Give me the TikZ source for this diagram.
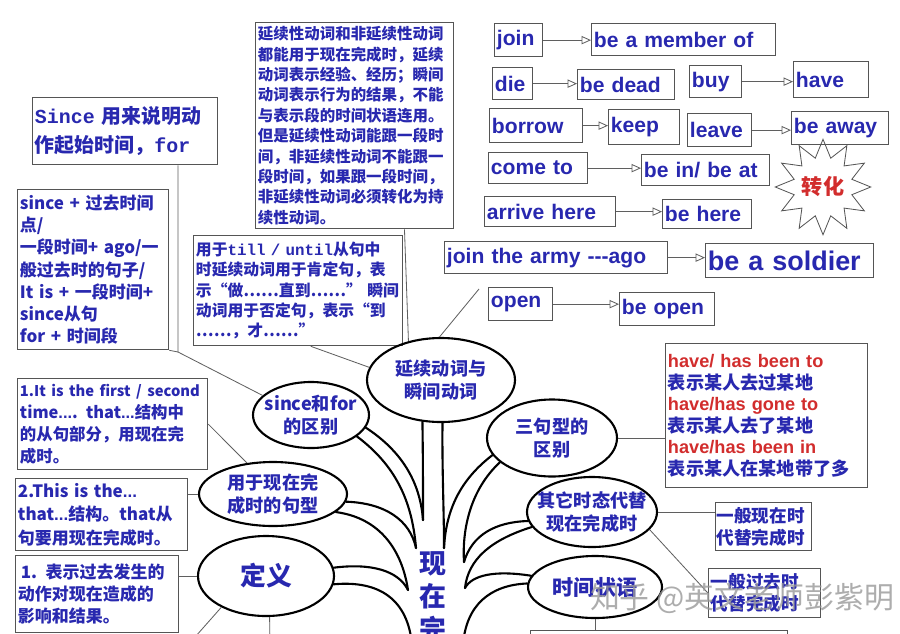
\documentclass[tikz,border=0pt]{standalone}
\usepackage{fontspec}
\setmainfont{Liberation Sans}
\newfontfamily\cjk{Noto Sans CJK SC}
\newfontfamily\mono{Liberation Mono}
\usetikzlibrary{positioning,arrows.meta,shapes.geometric,calc}

\definecolor{inkblue}{RGB}{40,40,175}
\definecolor{inkred}{RGB}{210,45,45}
\definecolor{edgegray}{RGB}{85,85,85}
\definecolor{linkgray}{RGB}{95,95,95}

\newcommand{\fsz}[2]{\fontsize{#1}{#2}\selectfont\hyphenpenalty=10000 }

\begin{document}
\begin{tikzpicture}[x=0.03cm, y=-0.03cm,
    wbox/.style={draw=edgegray, line width=1.1pt, anchor=north west, inner xsep=2pt, inner ysep=1pt, align=left, text=inkblue},
    wsz/.style 2 args={text width=#1*0.03cm-4pt, minimum height=#2*0.03cm},
    word/.style={wbox, font=\bfseries\fsz{18}{20}},
    zbox/.style 2 args={wbox, font=\cjk\bfseries\fsz{#1}{#2}},
    bubble/.style 2 args={ellipse, draw, line width=1.8pt, minimum width=#1*0.03cm, minimum height=#2*0.03cm, inner sep=0pt},
    btxt/.style={text=inkblue, font=\cjk\bfseries\fsz{15.5}{20}, align=center},
    limb/.style={line width=1.8pt, line cap=round},
    link/.style={draw=linkgray, line width=0.7pt},
    chg/.style={link, -{Triangle[open, length=8pt, width=7pt]}}]
    \useasboundingbox (0,0) rectangle (900,633);
    \clip (0,0) rectangle (900,633);
    \fill[white] (0,0) rectangle (900,633);

    % Verb pairs (top right)
    \node[word, wsz={48}{33}] (join) at (494,23) {join};
    \node[word, wsz={184}{32}] (member) at (591,23) {be a member of};
    \node[word, wsz={40}{32}] (die) at (492,67) {die};
    \node[word, wsz={97}{30}] (dead) at (577,69) {be dead};
    \node[word, wsz={52}{32}] (buy) at (689,65) {buy};
    \node[word, wsz={75}{36}] (have) at (793,61) {have};
    \node[word, wsz={93}{34}] (borrow) at (489,108) {borrow};
    \node[word, wsz={71}{35}] (keep) at (608,109) {keep};
    \node[word, wsz={64}{33}] (leave) at (687,113) {leave};
    \node[word, wsz={97}{33}] (away) at (791,111) {be away};
    \node[word, wsz={99}{31}] (come) at (488,152) {come to};
    \node[word, wsz={128}{31}] (inat) at (641,154) {be in/ be at};
    \node[word, wsz={131}{30}] (arrive) at (484,196) {arrive here};
    \node[word, wsz={89}{29}] (here) at (662,199) {be here};
    \node[word, wsz={223}{32}] (army) at (444,241) {join the army -{}-{}-ago};
    \node[word, wsz={168}{34}, font=\bfseries\fsz{23}{26}] (soldier) at (705,243) {be a soldier};
    \node[word, wsz={64}{33}] (open) at (488,287) {open};
    \node[word, wsz={95}{33}] (isopen) at (619,292) {be open};

    \draw[chg] (join.east) -- (join.east -| member.west);
    \draw[chg] (die.east) -- (die.east -| dead.west);
    \draw[chg] (buy.east) -- (buy.east -| have.west);
    \draw[chg] (borrow.east) -- (borrow.east -| keep.west);
    \draw[chg] (leave.east) -- (leave.east -| away.west);
    \draw[chg] (come.east) -- (come.east -| inat.west);
    \draw[chg] (arrive.east) -- (arrive.east -| here.west);
    \draw[chg] (army.east) -- (army.east -| soldier.west);
    \draw[chg] (open.east) -- (open.east -| isopen.west);

    % Burst
    \node[star, star points=12, star point ratio=1.6, draw=edgegray, line width=0.7pt, minimum size=80*0.03cm, inner sep=0pt,
          text=inkred, font=\cjk\bfseries\fsz{18}{20}] (zh) at (823,187) {转化};

    % Notes (left and top)
    \node[wbox, wsz={185}{67}, font=\cjk\bfseries\fsz{17}{24.5}] (sinceb) at (32,97)
        {{\mono\bfseries Since }用来说明动\\作起始时间，{\mono\bfseries for}};
    \node[zbox={13.2}{17.4}, wsz={198}{206}] (rule) at (255,22)
        {延续性动词和非延续性动词\\都能用于现在完成时，延续\\动词表示经验、经历；瞬间\\动词表示行为的结果，不能\\与表示段的时间状语连用。\\但是延续性动词能跟一段时\\间，非延续性动词不能跟一\\段时间，如果跟一段时间，\\非延续性动词必须转化为持\\续性动词。};
    \node[zbox={14.5}{19}, wsz={151}{160}] (plusb) at (17,189)
        {since + 过去时间\\点/\\一段时间+ ago/一\\般过去时的句子/\\It is + 一段时间+\\since从句\\for + 时间段};
    \node[zbox={13.5}{17.4}, wsz={209}{110}] (tillb) at (193,235)
        {用于{\mono\bfseries till / until}从句中\\时延续动词用于肯定句，表\\示“做……直到……” 瞬间\\动词用于否定句，表示“到\\……，才……”};
    \node[zbox={14}{18.7}, wsz={190}{91}] (firstb) at (17,378)
        {{\fsz{12.6}{18.7}1.It is the first / second}\\time{\rmfamily...}. that{\rmfamily...}结构中\\的从句部分，用现在完\\成时。};
    \node[zbox={14.5}{20}, wsz={172}{72}] (thisb) at (15,478)
        {2.This is the{\rmfamily...}\\that{\rmfamily...}结构。that从\\句要用现在完成时。};
    \node[zbox={14.5}{19}, wsz={163}{77}] (meanb) at (15,555)
        {\,1. 表示过去发生的\\动作对现在造成的\\影响和结果。};
    \node[zbox={15.5}{18.4}, wsz={202}{144}] (hv) at (665,343)
        {{\rmfamily\color{inkred}have/ has been to}\\表示某人去过某地\\{\rmfamily\color{inkred}have/has gone to}\\表示某人去了某地\\{\rmfamily\color{inkred}have/has been in}\\表示某人在某地带了多};
    \node[zbox={15}{19}, wsz={98}{48}, inner xsep=1pt] (pres) at (715,502) {一般现在时\\代替完成时};
    \node[zbox={15}{19}, wsz={112}{49}] (past) at (708,568) {一般过去时\\代替完成时};
    \node[wbox, minimum width=257*0.03cm, minimum height=40*0.03cm] (tail) at (530,630) {};

    % Bubbles
    \node[bubble={148}{84}, label={[btxt]center:{延续动词与\\瞬间动词}}] (yx) at (441,380) {};
    \node[bubble={116}{66}, label={[btxt]center:{since和for\\的区别}}] (sf) at (311,415) {};
    \node[bubble={148}{64}, label={[btxt]center:{用于现在完\\成时的句型}}] (yy) at (273,494) {};
    \node[bubble={136}{80}, label={[btxt, font=\cjk\bfseries\fsz{22}{24}]center:{定义}}] (dy) at (266,576) {};
    \node[bubble={130}{77}, label={[btxt]center:{三句型的\\区别}}] (sj) at (552,438) {};
    \node[bubble={130}{70}, label={[btxt]center:{其它时态代替\\现在完成时}}] (qt) at (592,512) {};
    \node[bubble={134}{62}, label={[btxt, font=\cjk\bfseries\fsz{18}{20}]center:{时间状语}}] (sz) at (595,587) {};

    % Trunk
    \node[text=inkblue, font=\cjk\bfseries\fsz{23}{28}, align=center] (trunk) at (433,597) {现\\在\\完};

    % Tree outline
    \coordinate (L1) at (423,520);
    \coordinate (L2) at (416,548);
    \coordinate (L3) at (408,590);
    \coordinate (L4) at (412,645);
    \coordinate (R1) at (444,548);
    \coordinate (R2) at (464,562);
    \coordinate (R3) at (465,588);
    \coordinate (R4) at (463,645);
    \draw[limb] (yx.-114) .. controls (423,460) and (423,490) .. (L1);
    \draw[limb] (sf.-13) .. controls (400,450) and (420,480) .. (L1);
    \draw[limb] (sf.-25) .. controls (395,465) and (412,500) .. (L2);
    \draw[limb] (yy.-6) .. controls (385,503) and (410,520) .. (L2);
    \draw[limb] (yy.-16) .. controls (380,518) and (402,550) .. (L3);
    \draw[limb] (dy.7) .. controls (370,563) and (398,570) .. (L3);
    \draw[limb] (dy.-7) .. controls (380,580) and (408,600) .. (L4);
    \draw[limb] (yx.-88) .. controls (442,470) and (444,510) .. (R1);
    \draw[limb] (sj.-164) .. controls (460,480) and (446,510) .. (R1);
    \draw[limb] (sj.-155) .. controls (470,490) and (462,530) .. (R2);
    \draw[limb] (qt.-172) .. controls (495,522) and (472,535) .. (R2);
    \draw[limb] (qt.-166) .. controls (490,540) and (468,560) .. (R3);
    \draw[limb] (sz.170) .. controls (495,570) and (472,575) .. (R3);
    \draw[limb] (sz.177) .. controls (490,585) and (466,605) .. (R4);

    % Thin links
    \coordinate (k1) at (178,352);
    \coordinate (grp) at (479,289);
    \coordinate (d1) at (188,645);
    \coordinate (d2) at (270,645);
    \draw[link] (sinceb.south -| k1) -- (k1) -- (sf.158);
    \draw[link] (plusb.south east) -- (k1);
    \draw[link] ($(rule.south west)!.75!(rule.south east)$) -- (yx.130);
    \draw[link] ($(tillb.south west)!.56!(tillb.south east)$) -- (yx.170);
    \draw[link] (grp) -- (yx.92);
    \draw[link] (firstb.east) -- (yy.130);
    \draw[link] (thisb.east |- yy.west) -- (yy.west);
    \draw[link] (meanb.east |- dy.west) -- (dy.west);
    \draw[link] (dy.-145) -- (d1);
    \draw[link] (dy.-85) -- (d2);
    \draw[link] (sj.east) -- (sj.east -| hv.west);
    \draw[link] (qt.east) -- (qt.east -| pres.west);
    \draw[link] (qt.-17) -- (past.west);
    \draw[link] (sz.south) -- (sz.south |- tail.north);

    % Watermark
    \node[font=\cjk\fsz{25.5}{28}, text=black!40, text opacity=0.8] (wm) at (742,598) {知乎 @英文老师彭紫明};
\end{tikzpicture}
\end{document}
